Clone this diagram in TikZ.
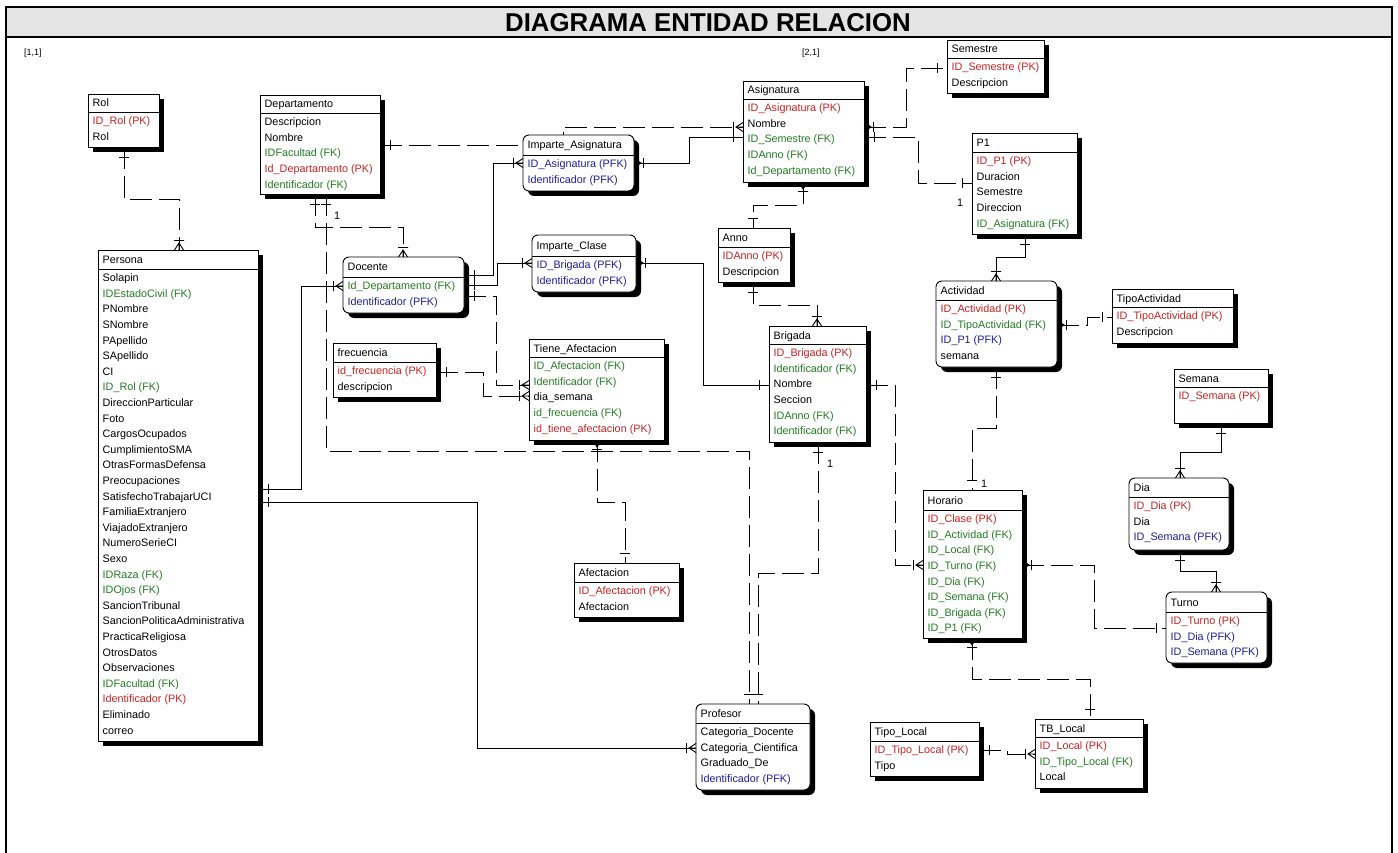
\documentclass[tikz,border=0pt]{standalone}
\usepackage{fontspec}
\setmainfont{Liberation Sans}
\usetikzlibrary{shadows}

\definecolor{pkc}{RGB}{200,35,35}
\definecolor{fkc}{RGB}{35,125,35}
\definecolor{pfkc}{RGB}{30,30,155}
\definecolor{attrc}{RGB}{0,0,0}
\definecolor{band}{RGB}{228,228,228}

\tikzset{
  ent/.style={draw, fill=white, line width=0.9pt, inner sep=0pt, outer sep=0pt,
    anchor=north west,
    drop shadow={shadow xshift=5pt, shadow yshift=-5pt, fill=black, opacity=1}},
  indep/.style={ent},
  dep/.style={ent, rounded corners=6pt},
  rule/.style={line width=0.9pt},
  fieldtxt/.style={anchor=base west, inner sep=0pt, font=\fontsize{10.8}{12}\selectfont},
  solidrel/.style={line width=0.9pt},
  dashrel/.style={line width=0.9pt, dash pattern=on 22pt off 7pt},
  pics/one/.style={code={\draw[solid, line width=0.9pt] (10,-5) -- (10,5);}},
  pics/many/.style={code={\draw[solid, line width=0.9pt]
      (0,-4.5) -- (7,0) -- (0,4.5) (0,0) -- (7,0) (9.5,-5) -- (9.5,5);}},
}

% #1 style, #2 name, #3-#6 corners, #7 header rule, #8 title, #9 fields
\newcommand\entity[9]{%
  \node[#1, minimum width={#5-#3}, minimum height={#6-#4}] (#2) at (#3,#4) {};
  \draw[rule] (#2.west |- 0,#7) -- (#2.east |- 0,#7);
  \node[fieldtxt] (#2-t) at ({#3+4.5},{(#4+#7)/2+4}) {#8};
  \foreach \c/\t [count=\i from 0] in {#9}
    \node[fieldtxt, text=\c] (#2-\i) at ({#3+4.5},{#7+12.7+15.6*\i}) {\t};
}

\begin{document}
\begin{tikzpicture}[x=1pt, y=-1pt]
\useasboundingbox (0,0) rectangle (1398,853);

% page frame and title band
\fill[band] (6,7) rectangle (1392,37);
\draw[line width=2pt] (6,853) -- (6,7) -- (1392,7) -- (1392,853);
\draw[line width=2pt] (6,37) -- (1392,37);
\node[anchor=base, inner sep=0pt, font=\bfseries\fontsize{25.8}{30}\selectfont] (title) at (708,32) {DIAGRAMA ENTIDAD RELACION};
\node[anchor=base west, inner sep=0pt, font=\fontsize{9}{10}\selectfont] (g11) at (24,56) {[1,1]};
\node[anchor=base west, inner sep=0pt, font=\fontsize{9}{10}\selectfont] (g21) at (802,56) {[2,1]};

% entities
\entity{indep}{rol}{88}{94}{159}{147}{112}{Rol}{pkc/ID\_Rol (PK), attrc/Rol}
\entity{indep}{dept}{260}{95}{380}{194}{113}{Departamento}{attrc/Descripcion, attrc/Nombre, fkc/IDFacultad (FK), pkc/Id\_Departamento (PK), fkc/Identificador (FK)}
\entity{indep}{pers}{98}{250}{258}{741}{269}{Persona}{attrc/Solapin, fkc/IDEstadoCivil (FK), attrc/PNombre, attrc/SNombre, attrc/PApellido, attrc/SApellido, attrc/CI, fkc/ID\_Rol (FK), attrc/DireccionParticular, attrc/Foto, attrc/CargosOcupados, attrc/CumplimientoSMA, attrc/OtrasFormasDefensa, attrc/Preocupaciones, attrc/SatisfechoTrabajarUCI, attrc/FamiliaExtranjero, attrc/ViajadoExtranjero, attrc/NumeroSerieCI, attrc/Sexo, fkc/IDRaza (FK), fkc/IDOjos (FK), attrc/SancionTribunal, attrc/SancionPoliticaAdministrativa, attrc/PracticaReligiosa, attrc/OtrosDatos, attrc/Observaciones, fkc/IDFacultad (FK), pkc/Identificador (PK), attrc/Eliminado, attrc/correo}
\entity{dep}{doc}{343}{257}{464}{313}{277}{Docente}{fkc/Id\_Departamento (FK), pfkc/Identificador (PFK)}
\entity{dep}{impc}{532}{235}{636}{292}{256}{Imparte\_Clase}{pfkc/ID\_Brigada (PFK), pfkc/Identificador (PFK)}
\entity{indep}{asig}{743}{81}{864}{182}{99}{Asignatura}{pkc/ID\_Asignatura (PK), attrc/Nombre, fkc/ID\_Semestre (FK), fkc/IDAnno (FK), fkc/Id\_Departamento (FK)}
\entity{indep}{anno}{718}{228}{790}{282}{247}{Anno}{pkc/IDAnno (PK), attrc/Descripcion}
\entity{indep}{sem}{947}{40}{1044}{93}{58}{Semestre}{pkc/ID\_Semestre (PK), attrc/Descripcion}
\entity{indep}{p1}{972}{133}{1077}{234}{152}{P1}{pkc/ID\_P1 (PK), attrc/Duracion, attrc/Semestre, attrc/Direccion, fkc/ID\_Asignatura (FK)}
\entity{dep}{act}{936}{281}{1057}{367}{300}{Actividad}{pkc/ID\_Actividad (PK), fkc/ID\_TipoActividad (FK), pfkc/ID\_P1 (PFK), attrc/semana}
\entity{indep}{tipo}{1112}{289}{1233}{343}{307}{TipoActividad}{pkc/ID\_TipoActividad (PK), attrc/Descripcion}
\entity{indep}{semana}{1174}{369}{1268}{423}{387}{Semana}{pkc/ID\_Semana (PK)}
\entity{dep}{dia}{1129}{478}{1229}{550}{497}{Dia}{pkc/ID\_Dia (PK), attrc/Dia, pfkc/ID\_Semana (PFK)}
\entity{dep}{turno}{1166}{592}{1267}{663}{612}{Turno}{pkc/ID\_Turno (PK), pfkc/ID\_Dia (PFK), pfkc/ID\_Semana (PFK)}
\entity{indep}{hor}{923}{490}{1022}{638}{510}{Horario}{pkc/ID\_Clase (PK), fkc/ID\_Actividad (FK), fkc/ID\_Local (FK), fkc/ID\_Turno (FK), fkc/ID\_Dia (FK), fkc/ID\_Semana (FK), fkc/ID\_Brigada (FK), fkc/ID\_P1 (FK)}
\entity{indep}{tbl}{1035}{719}{1143}{788}{737}{TB\_Local}{pkc/ID\_Local (PK), fkc/ID\_Tipo\_Local (FK), attrc/Local}
\entity{indep}{tl}{870}{722}{979}{776}{741}{Tipo\_Local}{pkc/ID\_Tipo\_Local (PK), attrc/Tipo}
\entity{dep}{prof}{696}{704}{810}{790}{723}{Profesor}{attrc/Categoria\_Docente, attrc/Categoria\_Cientifica, attrc/Graduado\_De, pfkc/Identificador (PFK)}
\entity{indep}{afec}{574}{563}{679}{617}{582}{Afectacion}{pkc/ID\_Afectacion (PK), attrc/Afectacion}
\entity{indep}{tiene}{529}{339}{664}{440}{357}{Tiene\_Afectacion}{fkc/ID\_Afectacion (FK), fkc/Identificador (FK), attrc/dia\_semana, fkc/id\_frecuencia (FK), pkc/id\_tiene\_afectacion (PK)}
\entity{indep}{frec}{333}{343}{436}{397}{362}{frecuencia}{pkc/id\_frecuencia (PK), attrc/descripcion}
\entity{indep}{brig}{769}{326}{866}{442}{344}{Brigada}{pkc/ID\_Brigada (PK), fkc/Identificador (FK), attrc/Nombre, attrc/Seccion, fkc/IDAnno (FK), fkc/Identificador (FK)}

% Departamento - Asignatura, running behind Imparte_Asignatura
\draw[dashrel] (dept.east |- 0,145) pic{one} -- (563,145) -- (563,127) -- (asig.west |- 0,127) pic[rotate=180]{many};
\entity{dep}{impa}{523}{135}{634}{191}{155}{Imparte\_Asignatura}{pfkc/ID\_Asignatura (PFK), pfkc/Identificador (PFK)}

% relationships
\draw[dashrel] (rol.south -| 124,0) pic[rotate=-90]{one} |- (179,199) -- (pers.north -| 179,0) pic[rotate=90]{many};
\draw[solidrel] (impa.east |- 0,163) pic{many} -| (689,137) -- (asig.west |- 0,137) pic[rotate=180]{one};
\draw[solidrel] (doc.east |- 0,275) pic{one} -| (493,163) -- (impa.west |- 0,163) pic[rotate=180]{many};
\draw[solidrel] (doc.east |- 0,285) pic{one} -| (497,263) -- (impc.west |- 0,263) pic[rotate=180]{many};
\draw[dashrel] (doc.east |- 0,296) pic{one} -| (496,385) -- (tiene.west |- 0,385) pic[rotate=180]{many};
\draw[dashrel] (frec.east |- 0,372) pic{one} -| (483,396) -- (tiene.west |- 0,396) pic[rotate=180]{many};
\draw[solidrel] (pers.east |- 0,489) pic{one} -| (301,286) -- (doc.west |- 0,286) pic[rotate=180]{many};
\draw[solidrel] (pers.east |- 0,502) pic{one} -| (477,748) -- (prof.west |- 0,748) pic[rotate=180]{many};
\draw[dashrel] (dept.south -| 315,0) pic[rotate=-90]{one} |- (403,227) -- (doc.north -| 403,0) pic[rotate=90]{many};
\draw[dashrel] (dept.south -| 326,0) pic[rotate=-90]{one} |- (749,451) -- (prof.north -| 749,0) pic[rotate=90]{one};
\draw[dashrel] (brig.south -| 818,0) pic[rotate=-90]{one} |- (758,573) -- (prof.north -| 758,0) pic[rotate=90]{one};
\draw[dashrel] (tiene.south -| 597,0) pic[rotate=-90]{many} |- (625,502) -- (afec.north -| 625,0) pic[rotate=90]{one};
\draw[solidrel] (impc.east |- 0,263) pic{many} -| (703,385) -- (brig.west |- 0,385) pic[rotate=180]{one};
\draw[dashrel] (asig.south -| 803,0) pic[rotate=-90]{many} |- (753,205) -- (anno.north -| 753,0) pic[rotate=90]{one};
\draw[dashrel] (anno.south -| 753,0) pic[rotate=-90]{one} |- (817,305) -- (brig.north -| 817,0) pic[rotate=90]{many};
\draw[dashrel] (asig.east |- 0,127) pic{many} -| (906,68) -- (sem.west |- 0,68) pic[rotate=180]{one};
\draw[dashrel] (asig.east |- 0,137) pic{one} -| (918,183) -- (p1.west |- 0,183) pic[rotate=180]{one};
\draw[solidrel] (p1.south -| 1025,0) pic[rotate=-90]{one} |- (996,257) -- (act.north -| 996,0) pic[rotate=90]{many};
\draw[dashrel] (act.east |- 0,325) pic{many} -- (1087,325) -- (1087,317) -- (tipo.west |- 0,317) pic[rotate=180]{one};
\draw[dashrel] (act.south -| 996,0) pic[rotate=-90]{one} |- (972,428) -- (hor.north -| 972,0) pic[rotate=90]{one};
\draw[dashrel] (brig.east |- 0,385) pic{one} -| (895,565) -- (hor.west |- 0,565) pic[rotate=180]{many};
\draw[dashrel] (hor.east |- 0,565) pic{many} -| (1094,628) -- (turno.west |- 0,628) pic[rotate=180]{one};
\draw[solidrel] (semana.south -| 1221,0) pic[rotate=-90]{one} |- (1180,452) -- (dia.north -| 1180,0) pic[rotate=90]{many};
\draw[solidrel] (dia.south -| 1180,0) pic[rotate=-90]{one} |- (1216,571) -- (turno.north -| 1216,0) pic[rotate=90]{many};
\draw[dashrel] (hor.south -| 972,0) pic[rotate=-90]{many} |- (1090,679) -- (tbl.north -| 1090,0) pic[rotate=90]{one};
\draw[dashrel] (tl.east |- 0,750) pic{one} -- (1007,750) -- (1007,754) -- (tbl.west |- 0,754) pic[rotate=180]{many};

% cardinality labels
\node[fieldtxt] (c1) at (334,220) {1};
\node[fieldtxt] (c2) at (827,467) {1};
\node[fieldtxt] (c3) at (957,207) {1};
\node[fieldtxt] (c4) at (981,487) {1};
\end{tikzpicture}
\end{document}
